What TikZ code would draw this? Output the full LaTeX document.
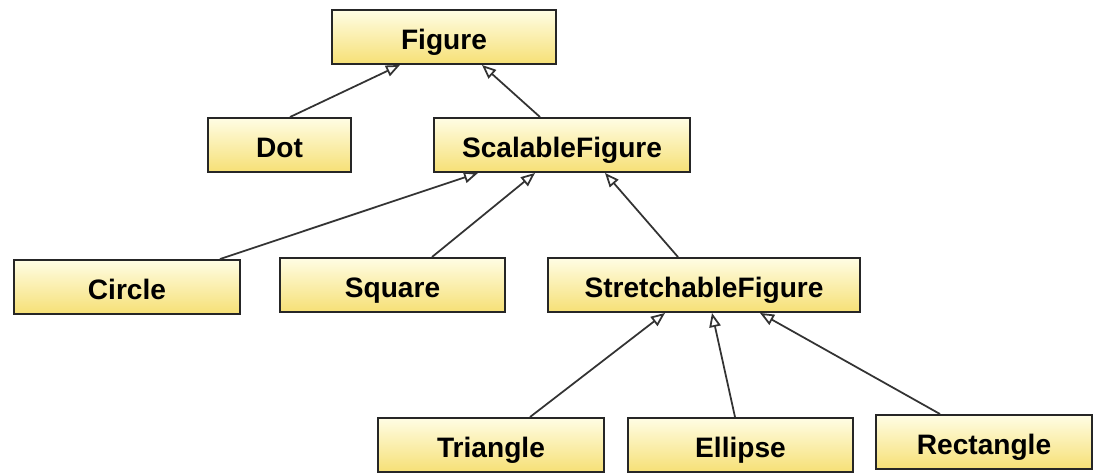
\documentclass[tikz,border=0pt]{standalone}
\usepackage{fontspec}
\setmainfont{Liberation Sans}
\usepackage{tikz}
\usetikzlibrary{arrows.meta, positioning}

\definecolor{boxtop}{RGB}{255,253,228}
\definecolor{boxbottom}{RGB}{246,224,118}

\begin{document}
\begin{tikzpicture}[x=0.02cm, y=-0.02cm]

	\tikzset{
		classbox/.style={
				rectangle, draw=black!85, line width=1.1pt, top color=boxtop, bottom color=boxbottom,
				minimum height=1.08cm, inner sep=0pt, text height=0.52cm, text depth=0cm,
				font=\fontsize{16}{19}\selectfont\bfseries
			},
		inherit/.style={
				draw=black!80, line width=1pt, -{Triangle[open, fill=white, length=8pt, width=6.5pt]}
			},
	}
	\useasboundingbox (0,0) rectangle (1097,475);

	\node[classbox, minimum width=4.48cm](figure) at (444,37){Figure};

	\node[classbox, minimum width=2.86cm](dot) at (279.5,145){Dot};
	\node[classbox, minimum width=5.12cm](scalable) at (562,145){ScalableFigure};

	\node[classbox, minimum width=4.52cm](circle) at (127,287){Circle};
	\node[classbox, minimum width=4.5cm](square) at (392.5,285){Square};
	\node[classbox, minimum width=6.24cm](stretchable) at (704,285){StretchableFigure};

	\node[classbox, minimum width=4.52cm](triangle) at (491,445){Triangle};
	\node[classbox, minimum width=4.5cm](ellipse) at (740.5,445){Ellipse};
	\node[classbox, minimum width=4.32cm](rectangle) at (984,442){Rectangle};

	\draw[inherit] ([xshift=0.21cm]dot.north)--([xshift=-0.88cm]figure.south);
	\draw[inherit] ([xshift=-0.44cm]scalable.north)--([xshift=0.76cm]figure.south);

	\draw[inherit] ([xshift=1.86cm]circle.north)--([xshift=-1.68cm]scalable.south);
	\draw[inherit] ([xshift=0.79cm]square.north)--([xshift=-0.54cm]scalable.south);
	\draw[inherit] ([xshift=-0.52cm]stretchable.north)--([xshift=0.86cm]scalable.south);

	\draw[inherit] ([xshift=0.78cm]triangle.north)--([xshift=-0.78cm]stretchable.south);
	\draw[inherit] ([xshift=-0.11cm]ellipse.north)--([xshift=0.16cm]stretchable.south);
	\draw[inherit] ([xshift=-0.88cm]rectangle.north)--([xshift=1.12cm]stretchable.south);

\end{tikzpicture}
\end{document}
